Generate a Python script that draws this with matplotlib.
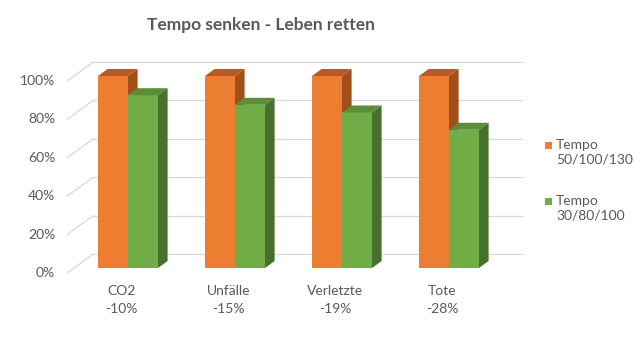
import matplotlib
matplotlib.use("Agg")
import matplotlib.pyplot as plt
from matplotlib.patches import Polygon, Rectangle

plt.rcParams['font.family'] = ['Lato', 'DejaVu Sans']

categories = ['CO2', 'Unfälle', 'Verletzte', 'Tote']
changes = [-10, -15, -19, -28]          # Veränderung in Prozent
base = [100, 100, 100, 100]              # Tempo 50/100/130
reduced = [b + c for b, c in zip(base, changes)]   # Tempo 30/80/100
series_names = ['Tempo\n50/100/130', 'Tempo\n30/80/100']
yticks = [0, 20, 40, 60, 80, 100]

TEXT = '#595959'
GRID = '#d9d9d9'
faces = {
    'orange': ('#ED7D31', '#B85B22', '#A24F1C'),
    'green': ('#70AD47', '#5A8F38', '#46702C'),
}

# pixel scale of the data units (x: category step, y: one percent)
sx, sy = 107.0, 1.92
W, H = 640, 339
fig = plt.figure(figsize=(W / 100, H / 100), dpi=100)
ax = fig.add_axes([0, 0, 1, 1])
ax.set_xlim(-98 / sx, (W - 98) / sx)
ax.set_ylim(-71 / sy, (H - 71) / sy)
ax.axis('off')

bw = 30 / sx                     # bar width
ddx, ddy = 9.6 / sx, 7 / sy      # bar depth offset
fdx, fdy = -6.8 / sx, -5 / sy    # front edge of floor / side wall
bdx, bdy = 19.2 / sx, 14 / sy    # back wall
wall_l, wall_r = -24 / sx, 405 / sx

# back wall gridlines and the diagonals on the side wall
for v in yticks:
    ax.plot([wall_l + bdx, wall_r + bdx], [v + bdy, v + bdy], color=GRID, lw=0.9, zorder=1)
    ax.plot([wall_l + fdx, wall_l + bdx], [v + fdy, v + bdy], color=GRID, lw=0.9, zorder=1)
    ax.text(wall_l + fdx - 12 / sx, v + fdy, f'{v}%', ha='right', va='center',
            fontsize=10, color=TEXT)


def bar3d(x0, h, cols):
    front, top, side = cols
    ax.add_patch(Polygon([(x0, 0), (x0 + bw, 0), (x0 + bw, h), (x0, h)],
                         closed=True, fc=front, ec='none', zorder=3))
    ax.add_patch(Polygon([(x0, h), (x0 + bw, h), (x0 + bw + ddx, h + ddy), (x0 + ddx, h + ddy)],
                         closed=True, fc=top, ec='none', zorder=3))
    ax.add_patch(Polygon([(x0 + bw, 0), (x0 + bw + ddx, ddy), (x0 + bw + ddx, h + ddy), (x0 + bw, h)],
                         closed=True, fc=side, ec='none', zorder=3))


for i, cat in enumerate(categories):
    bar3d(i, base[i], faces['orange'])
    bar3d(i + bw, reduced[i], faces['green'])
    cx = i + bw + fdx
    ax.text(cx, -23 / sy, cat, ha='center', va='center', fontsize=10, color=TEXT)
    ax.text(cx, -41 / sy, f'{changes[i]}%', ha='center', va='center', fontsize=10, color=TEXT)

fig.text(261 / W, 1 - 25 / H, 'Tempo senken - Leben retten', ha='center', va='center',
         fontsize=12.5, fontweight='bold', color=TEXT)

# legend: square marker next to the first line of each two-line label
for k, (name, key) in enumerate(zip(series_names, ['orange', 'green'])):
    yc = 145 + 56 * k
    fig.add_artist(Rectangle(((548 - 3.5) / W, 1 - (yc + 3.5) / H), 7 / W, 7 / H,
                             transform=fig.transFigure, fc=faces[key][0], ec='none'))
    fig.text(556 / W, 1 - (yc - 6) / H, name, ha='left', va='top', fontsize=10,
             color=TEXT, linespacing=1.25)

fig.savefig('out.png', dpi=100)
